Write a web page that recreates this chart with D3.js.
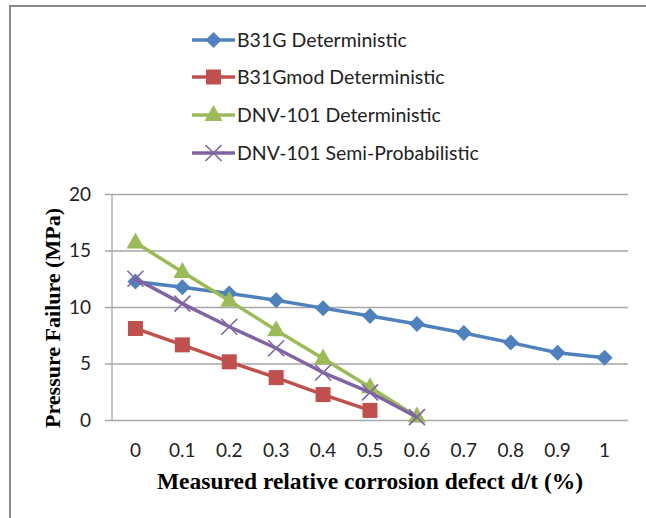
<!DOCTYPE html>
<html>
<head>
<meta charset="utf-8">
<script src="https://cdn.jsdelivr.net/npm/d3@7"></script>
<style>
  body { margin: 0; background: #fff; }
  svg { display: block; }
</style>
</head>
<body>
<svg id="canvas"></svg>
<script>
const categories = [0, 0.1, 0.2, 0.3, 0.4, 0.5, 0.6, 0.7, 0.8, 0.9, 1]
const tickLabels = ['0', '0.1', '0.2', '0.3', '0.4', '0.5', '0.6', '0.7', '0.8', '0.9', '1']
const yTicks = [0, 5, 10, 15, 20]

const b31g = [12.25, 11.75, 11.2, 10.6, 9.9, 9.2, 8.5, 7.7, 6.85, 5.95, 5.5]
const b31gmod = [8.1, 6.65, 5.15, 3.75, 2.25, 0.85]
const dnvDet = [15.7, 13.1, 10.55, 7.95, 5.45, 2.9, 0.3]
const dnvSemi = [12.5, 10.3, 8.25, 6.35, 4.2, 2.45, 0.25]

const seriesNames = ['B31G Deterministic', 'B31Gmod Deterministic', 'DNV-101 Deterministic', 'DNV-101 Semi-Probabilistic']
const seriesColors = ['#4f81bd', '#c0504d', '#9bbb59', '#8064a2']
const seriesShapes = ['diamond', 'square', 'triangle', 'cross']

const series = [b31g, b31gmod, dnvDet, dnvSemi].map((vals, i) => ({
    name: seriesNames[i],
    color: seriesColors[i],
    shape: seriesShapes[i],
    values: vals.map((v, j) => ({ x: categories[j], y: v }))
}))

const width = 646
const height = 518

let canvas = d3.select('#canvas')
canvas.attr('width', width)
canvas.attr('height', height)

// frame (top and left edges only)
canvas.append('line').attr('x1', 9).attr('x2', width).attr('y1', 6).attr('y2', 6)
    .attr('stroke', '#898989').attr('stroke-width', 2)
canvas.append('line').attr('x1', 10).attr('x2', 10).attr('y1', 6).attr('y2', height)
    .attr('stroke', '#898989').attr('stroke-width', 2)

let xScale = d3.scalePoint()
    .domain(categories)
    .range([112, 628])
    .padding(0.5)

let yScale = d3.scaleLinear()
    .domain([0, 20])
    .range([420, 194])

// gridlines
canvas.append('g')
    .selectAll('line')
    .data(yTicks)
    .enter()
    .append('line')
    .attr('x1', 105)
    .attr('x2', 628)
    .attr('y1', d => yScale(d) + 0.5)
    .attr('y2', d => yScale(d) + 0.5)
    .attr('stroke', '#a6a6a6')
    .attr('stroke-width', 1.3)

// y axis line
canvas.append('line')
    .attr('x1', 112).attr('x2', 112)
    .attr('y1', yScale(20)).attr('y2', yScale(0) + 1)
    .attr('stroke', '#a6a6a6').attr('stroke-width', 1.3)

// y tick labels
canvas.append('g')
    .selectAll('text')
    .data(yTicks)
    .enter()
    .append('text')
    .attr('x', 91)
    .attr('y', d => yScale(d))
    .attr('dy', '0.36em')
    .attr('text-anchor', 'end')
    .attr('font-family', 'Lato, "Open Sans", sans-serif')
    .attr('font-size', 19)
    .attr('fill', '#222')
    .text(d => d)

// x tick labels
canvas.append('g')
    .selectAll('text')
    .data(categories)
    .enter()
    .append('text')
    .attr('x', d => xScale(d))
    .attr('y', 457)
    .attr('text-anchor', 'middle')
    .attr('font-family', 'Lato, "Open Sans", sans-serif')
    .attr('font-size', 19)
    .attr('fill', '#222')
    .text((d, i) => tickLabels[i])

// axis titles
canvas.append('text')
    .attr('x', 370)
    .attr('y', 489)
    .attr('text-anchor', 'middle')
    .attr('font-family', '"Liberation Serif", "Times New Roman", serif')
    .attr('font-weight', 'bold')
    .attr('font-size', 23.5)
    .attr('fill', '#000')
    .text('Measured relative corrosion defect d/t (%)')

canvas.append('text')
    .attr('transform', 'translate(60,318) rotate(-90)')
    .attr('text-anchor', 'middle')
    .attr('font-family', '"Liberation Serif", "Times New Roman", serif')
    .attr('font-weight', 'bold')
    .attr('font-size', 22)
    .attr('fill', '#000')
    .text('Pressure Failure (MPa)')

let line = d3.line()
    .x(d => xScale(d.x))
    .y(d => yScale(d.y))

let drawMarker = (g, shape, color, x, y) => {
    if (shape === 'diamond') {
        g.append('path')
            .attr('d', `M${x},${y - 8}L${x + 8},${y}L${x},${y + 8}L${x - 8},${y}Z`)
            .attr('fill', color)
    } else if (shape === 'square') {
        g.append('rect')
            .attr('x', x - 7.5).attr('y', y - 7.5)
            .attr('width', 15).attr('height', 15)
            .attr('fill', color)
    } else if (shape === 'triangle') {
        g.append('path')
            .attr('d', `M${x},${y - 10}L${x + 9},${y + 6}L${x - 9},${y + 6}Z`)
            .attr('fill', color)
    } else {
        g.append('path')
            .attr('d', `M${x - 8},${y - 8}L${x + 8},${y + 8}M${x + 8},${y - 8}L${x - 8},${y + 8}`)
            .attr('stroke', color)
            .attr('stroke-width', 1.6)
    }
}

// series lines and markers
series.forEach(s => {
    let g = canvas.append('g')
    g.append('path')
        .datum(s.values)
        .attr('d', line)
        .attr('fill', 'none')
        .attr('stroke', s.color)
        .attr('stroke-width', 3.5)
        .attr('stroke-linejoin', 'round')
    s.values.forEach(d => drawMarker(g, s.shape, s.color, xScale(d.x), yScale(d.y)))
})

// legend
let legendY = [40, 77, 115, 153]
series.forEach((s, i) => {
    let g = canvas.append('g')
    g.append('line')
        .attr('x1', 192).attr('x2', 235)
        .attr('y1', legendY[i]).attr('y2', legendY[i])
        .attr('stroke', s.color).attr('stroke-width', 3.5)
    drawMarker(g, s.shape, s.color, 213.5, legendY[i])
    g.append('text')
        .attr('x', 237)
        .attr('y', legendY[i])
        .attr('dy', '0.36em')
        .attr('font-family', 'Lato, "Open Sans", sans-serif')
        .attr('font-size', 19.5)
        .attr('fill', '#222')
        .text(s.name)
})
</script>
</body>
</html>
